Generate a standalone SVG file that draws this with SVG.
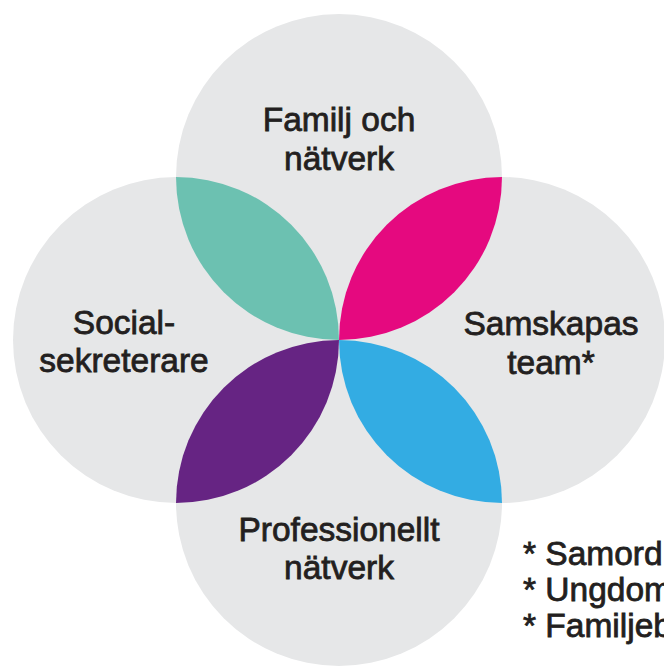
<svg xmlns="http://www.w3.org/2000/svg" width="664" height="667" viewBox="0 0 664 667">
<style>
.c{fill:#e6e7e8}
.t{font-family:"Liberation Sans",Arial,sans-serif;font-size:33.5px;fill:#231f20;stroke:#231f20;stroke-width:0.8;text-anchor:middle}
.f{text-anchor:start}
</style>
<rect width="664" height="667" fill="#ffffff"/>
<g id="top"><circle class="c" cx="339" cy="177" r="163"/></g>
<g id="left"><circle class="c" cx="176" cy="340" r="163"/></g>
<g id="right"><circle class="c" cx="502" cy="340" r="163"/></g>
<g id="bottom"><circle class="c" cx="339" cy="503" r="163"/></g>
<g id="lenses">
<path id="green" fill="#6cc1b1" d="M176,177 A163,163 0 0 0 339,340 A163,163 0 0 0 176,177 Z"/>
<path id="pink" fill="#e5097f" d="M339,340 A163,163 0 0 0 502,177 A163,163 0 0 0 339,340 Z"/>
<path id="blue" fill="#33ace3" d="M339,340 A163,163 0 0 1 502,503 A163,163 0 0 1 339,340 Z"/>
<path id="purple" fill="#662483" d="M176,503 A163,163 0 0 0 339,340 A163,163 0 0 0 176,503 Z"/>
</g>
<g id="labels">
<text class="t" x="339" y="131">Familj och</text>
<text class="t" x="339" y="170">nätverk</text>
<text class="t" x="124" y="334">Social-</text>
<text class="t" x="124" y="372">sekreterare</text>
<text class="t" x="551" y="335">Samskapas</text>
<text class="t" x="551" y="374">team*</text>
<text class="t" x="339" y="541">Professionellt</text>
<text class="t" x="339" y="579">nätverk</text>
</g>
<g id="footnotes">
<text class="t f" x="523" y="565">* Samord</text>
<text class="t f" x="523" y="601">* Ungdom</text>
<text class="t f" x="523" y="637">* Familjeb</text>
</g>
</svg>
